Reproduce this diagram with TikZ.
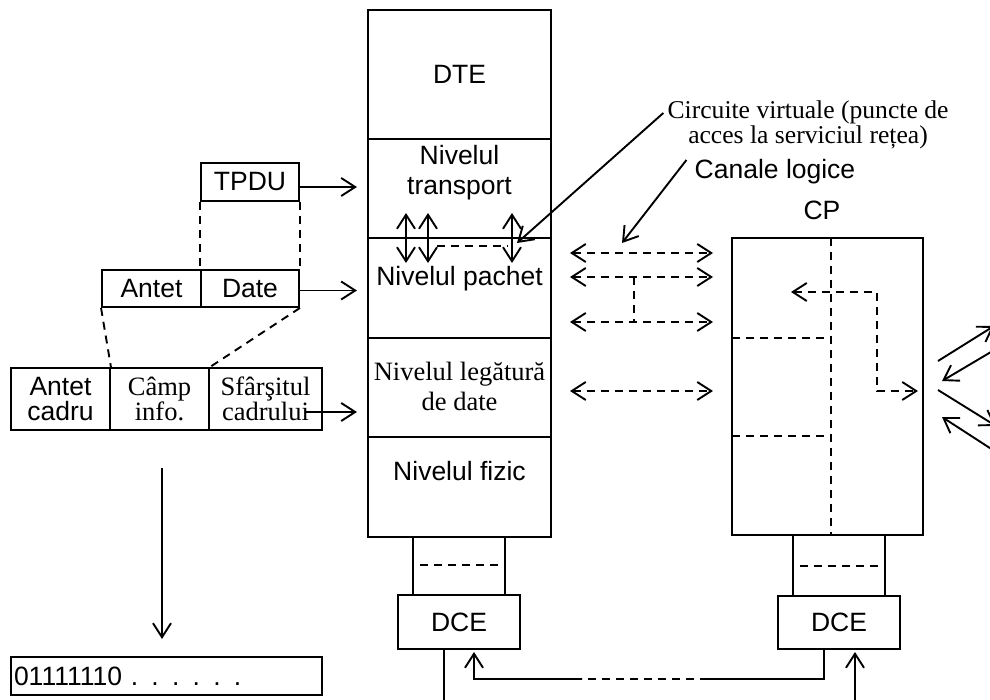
\documentclass[tikz,border=0pt]{standalone}
\usepackage{fontspec}
\setmainfont{Liberation Serif}
\setsansfont{Liberation Sans}
\usetikzlibrary{arrows.meta}

\tikzset{
  box/.style={draw, line width=1.9pt, inner sep=0pt},
  txtsf/.style={font=\fontsize{26.5}{30}\selectfont\sffamily, align=center},
  txtrm/.style={font=\fontsize{26.5}{30}\selectfont\rmfamily, align=center},
  arr/.style={-{Straight Barb[length=14pt,width=18pt]}},
  darr/.style={{Straight Barb[length=14pt,width=18pt]}-{Straight Barb[length=14pt,width=18pt]}},
  dsh/.style={dash pattern=on 8pt off 6pt}
}

\begin{document}
\begin{tikzpicture}[x=1pt, y=-1pt, line width=1.9pt]
\useasboundingbox (0,0) rectangle (990,700);

% DTE stack
\node[box, minimum width=183pt, minimum height=129pt] (dte) at (459.5,74.5) {};
\node[box, minimum width=183pt, minimum height=99pt] (transp) at (459.5,188.5) {};
\node[box, minimum width=183pt, minimum height=100pt] (pachet) at (459.5,288) {};
\node[box, minimum width=183pt, minimum height=99pt] (legatura) at (459.5,387.5) {};
\node[box, minimum width=183pt, minimum height=100pt] (fizic) at (459.5,487) {};

\node[txtsf] (tdte) at (dte) {DTE};
\node[txtsf] (ttransp) at (459.5,173) {Nivelul\\transport};
\node[txtsf] (tpachet) at (459.5,279) {Nivelul pachet};
\node[txtrm] (tleg) at (459.5,386) {Nivelul legătură\\de date};
\node[txtsf] (tfizic) at (459.5,471) {Nivelul fizic};

\foreach \x in {406,428,512}
  \draw[darr] (\x,213) -- (\x,263);
\draw[dsh] (437,246) -- (508,246);

% DCE left
\draw (413,537) -- (413,595);
\draw (505,537) -- (505,595);
\draw[dsh] (420,565) -- (498,565);
\node[box, txtsf, minimum width=122pt, minimum height=54pt] (dceA) at (459,622) {DCE};
\draw (444,649) -- (444,702);

% CP
\node[txtsf] (tcp) at (822,210) {CP};
\node[box, minimum width=191pt, minimum height=297pt] (cp) at (827.5,386.5) {};
\draw[dsh] (831,238) -- (831,535);
\draw[dsh] (732,338) -- (831,338);
\draw[dsh] (732,436) -- (831,436);
\draw[dsh, darr] (791,292) -- (877,292) -- (877,391) -- (918,391);
\draw (793,535) -- (793,596);
\draw (885,535) -- (885,596);
\draw[dsh] (800,566) -- (880,566);
\node[box, txtsf, minimum width=122pt, minimum height=53pt] (dceB) at (839,622.5) {DCE};

% canale logice
\foreach \y in {253,277,322,391}
  \draw[dsh, darr] (570,\y) -- (713,\y);
\draw[dsh] (634,277) -- (634,322);

\node[font=\fontsize{25.6}{25}\selectfont\rmfamily, align=center] (tcv) at (808,125) {Circuite virtuale (puncte de\\acces la serviciul rețea)};
\draw[arr] ([yshift=12pt]tcv.west) -- (517,243);
\node[txtsf] (tcl) at (775,172) {Canale logice};
\draw[arr] ([xshift=-4pt,yshift=12pt]tcl.west) -- (622,243);

% legatura DCE - DCE
\draw (824,649) -- (824,679) -- (708,679);
\draw[dsh] (708,679) -- (582,679);
\draw[arr] (582,679) -- (474,679) -- (474,652);
\draw[arr] (855,702) -- (855,652);

% spre alte noduri
\draw[arr] (938,361) -- (994,326);
\draw[arr] (996,349) -- (942,381);
\draw[arr] (938,390) -- (996,426);
\draw[arr] (996,452) -- (942,417);

% unitati de date
\node[box, txtsf, minimum width=98pt, minimum height=38pt] (tpdu) at (250,182) {TPDU};
\draw[arr] ([yshift=-5pt]tpdu.east) -- ++(57,0);
\node[box, txtsf, minimum width=99pt, minimum height=37pt] (antet) at (151.5,288.5) {Antet};
\node[box, txtsf, minimum width=98pt, minimum height=37pt] (date) at (250,288.5) {Date};
\draw[arr] ([yshift=-2pt]date.east) -- ++(57,0);
\draw[dsh] (tpdu.south west) -- (date.north west);
\draw[dsh] (tpdu.south east) -- (date.north east);

\node[box, font=\fontsize{26.5}{25}\selectfont\sffamily, align=center, minimum width=99pt, minimum height=62pt] (cadru) at (60.5,399) {Antet\\cadru};
\node[box, font=\fontsize{26.5}{25}\selectfont\rmfamily, align=center, minimum width=99pt, minimum height=62pt] (camp) at (159.5,399) {Câmp\\info.};
\node[box, font=\fontsize{26.5}{25}\selectfont\rmfamily, align=center, minimum width=113pt, minimum height=62pt] (sfarsit) at (265.5,399) {Sfârşitul\\cadrului};
\draw[dsh] (antet.south west) -- (cadru.north east);
\draw[dsh] (date.south east) -- (camp.north east);
\draw[arr] ([xshift=-17pt,yshift=-13pt]sfarsit.east) -- ++(51,0);
\draw[arr] ([xshift=2.5pt,yshift=-37pt]camp.south) -- ++(0,171);

\node[box, txtsf, text width=305pt, align=left, inner sep=3pt, minimum height=38pt] (bits) at (166.5,676) {01111110 . . . . . .};

\end{tikzpicture}
\end{document}
